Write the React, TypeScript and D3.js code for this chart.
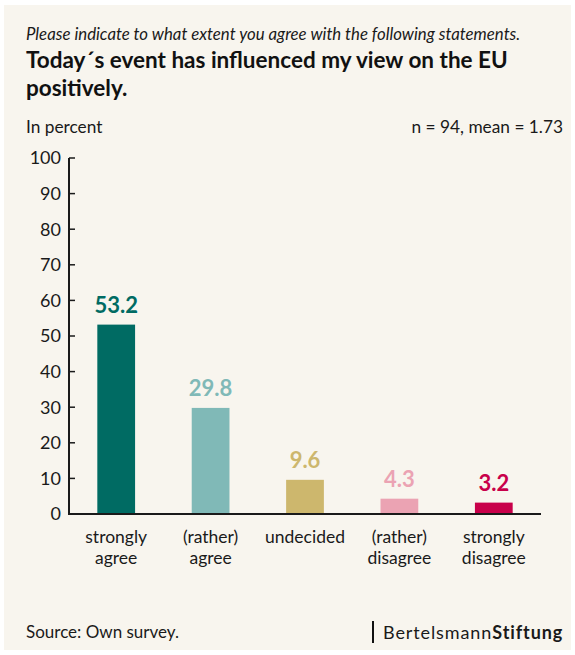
import React from "react";
import * as d3 from "d3";

const categories = ["strongly agree", "(rather) agree", "undecided", "(rather) disagree", "strongly disagree"];
const categoryLines = [["strongly", "agree"], ["(rather)", "agree"], ["undecided"], ["(rather)", "disagree"], ["strongly", "disagree"]];
const values = [53.2, 29.8, 9.6, 4.3, 3.2];
const colors = ["#006b63", "#80b9b7", "#cdb76d", "#eba3b3", "#c8004a"];
const yTicks = [0, 10, 20, 30, 40, 50, 60, 70, 80, 90, 100];

const W = 575, H = 655;
const left = 69, right = 541, top = 158, bottom = 514;
const font = "Lato, 'Noto Sans', sans-serif";

export default function App() {
  const x = d3.scaleBand<string>().domain(categories).range([left, right]).paddingInner(0.6).paddingOuter(0.3);
  const y = d3.scaleLinear().domain([0, 100]).range([bottom, top]);
  return (
    <svg width={W} height={H} style={{ position: "absolute", left: 0, top: 0 }} fontFamily={font}>
      <rect x={0} y={0} width={W} height={H} fill="#ffffff" />
      <rect x={4} y={5} width={W - 8} height={H - 10} fill="#f8f5ee" />
      <text x={26} y={40} fontSize={16.8} fontStyle="italic" fill="#1a1a1a">Please indicate to what extent you agree with the following statements.</text>
      <text x={26} y={68} fontSize={22.5} fontWeight="bold" fill="#111">Today´s event has influenced my view on the EU</text>
      <text x={26} y={96} fontSize={22.5} fontWeight="bold" fill="#111">positively.</text>
      <text x={26} y={133} fontSize={17.3} fill="#1a1a1a">In percent</text>
      <text x={563} y={133} fontSize={17.3} fill="#1a1a1a" textAnchor="end">n = 94, mean = 1.73</text>
      {yTicks.map((t) => (
        <g key={t}>
          <line x1={left} x2={left + 6} y1={y(t)} y2={y(t)} stroke="#1a1a1a" strokeWidth={1.5} />
          <text x={61} y={y(t)} dy="0.35em" fontSize={18} textAnchor="end" fill="#1a1a1a">{t}</text>
        </g>
      ))}
      {categories.map((c, i) => (
        <g key={c}>
          <rect x={x(c)} y={y(values[i])} width={x.bandwidth()} height={bottom - y(values[i])} fill={colors[i]} />
          <text x={(x(c) as number) + x.bandwidth() / 2} y={y(values[i]) - 12} fontSize={22} fontWeight="bold" textAnchor="middle" fill={colors[i]}>{values[i].toFixed(1)}</text>
          {categoryLines[i].map((l, j) => (
            <text key={j} x={(x(c) as number) + x.bandwidth() / 2} y={543 + j * 21} fontSize={17.5} textAnchor="middle" fill="#1a1a1a">{l}</text>
          ))}
        </g>
      ))}
      <line x1={left} x2={left} y1={top} y2={bottom + 1} stroke="#1a1a1a" strokeWidth={2} />
      <line x1={left - 1} x2={right} y1={bottom} y2={bottom} stroke="#1a1a1a" strokeWidth={2} />
      <text x={26} y={638} fontSize={17} fill="#1a1a1a">Source: Own survey.</text>
      <line x1={373} x2={373} y1={621} y2={643} stroke="#111" strokeWidth={2} />
      <text x={383} y={639} fontSize={18} fill="#1a1a1a" letterSpacing={0.9}>Bertelsmann<tspan fontWeight="bold">Stiftung</tspan></text>
    </svg>
  );
}
